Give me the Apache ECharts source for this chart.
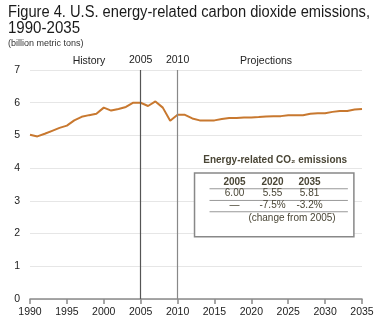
<!DOCTYPE html>
<html><head><meta charset="utf-8">
<script src="https://cdn.jsdelivr.net/npm/echarts@6/dist/echarts.min.js"></script>
<style>html,body{margin:0;padding:0;background:#fff}#c{width:378px;height:329px}</style>
</head><body><div id="c"></div>
<script>
const years = [1990,1991,1992,1993,1994,1995,1996,1997,1998,1999,2000,2001,2002,2003,2004,2005,2006,2007,2008,2009,2010,2011,2012,2013,2014,2015,2016,2017,2018,2019,2020,2021,2022,2023,2024,2025,2026,2027,2028,2029,2030,2031,2032,2033,2034,2035];
const emissions = [5.02,4.97,5.05,5.14,5.23,5.30,5.46,5.57,5.62,5.66,5.85,5.76,5.81,5.87,6.00,6.00,5.90,6.04,5.85,5.45,5.63,5.63,5.52,5.46,5.46,5.46,5.50,5.53,5.53,5.55,5.55,5.56,5.58,5.59,5.59,5.62,5.62,5.62,5.66,5.68,5.68,5.72,5.75,5.75,5.79,5.81];
const xTicks = [1990,1995,2000,2005,2010,2015,2020,2025,2030,2035];
const yTicks = [0,1,2,3,4,5,6,7];
const markerYears = [2005, 2010];
const titleLines = ['Figure 4. U.S. energy-related carbon dioxide emissions,', '1990-2035'];
const subtitle = '(billion metric tons)';
const tableTitle = 'Energy-related CO\u2082 emissions';
const tableHeader = ['2005','2020','2035'];
const tableValues = ['6.00','5.55','5.81'];
const tableChange = ['\u2014','-7.5%','-3.2%'];
const tableNote = '(change from 2005)';

const chart = echarts.init(document.getElementById('c'));
const FONT = 'Liberation Sans, Arial, sans-serif';
const TFONT = '16px "Liberation Sans", Arial';
const ctx = document.createElement('canvas').getContext('2d');
ctx.font = TFONT;
const targetW = [362, 72];
const titleGraphics = titleLines.map((t, i) => {
  const w = ctx.measureText(t).width;
  const s = Math.min(1, targetW[i] / w);
  return {type: 'text', x: 8, y: 5 + i * 16, scaleX: s, style: {text: t, font: TFONT, fill: '#1a1a1a'}};
});
const option = {
  animation: false,
  grid: {left: 30, right: 16, top: 70, bottom: 30},
  xAxis: {
    type: 'value', min: xTicks[0], max: xTicks[xTicks.length-1], interval: 5,
    axisLine: {lineStyle: {color: '#8a8a8a', width: 1.5}},
    axisTick: {show: true, length: 5, lineStyle: {color: '#8a8a8a', width: 1.5}},
    axisLabel: {color: '#222', fontSize: 10.5, fontFamily: FONT, margin: 8, formatter: v => String(v)},
    splitLine: {show: false}
  },
  yAxis: {
    type: 'value', min: yTicks[0], max: yTicks[yTicks.length-1], interval: 1,
    axisLine: {show: false}, axisTick: {show: false},
    axisLabel: {color: '#222', fontSize: 10.5, fontFamily: FONT, margin: 10},
    splitLine: {lineStyle: {color: '#e6e6e6', width: 1}}
  },
  series: [{
    type: 'line',
    data: years.map((y, i) => [y, emissions[i]]),
    symbol: 'none',
    lineStyle: {color: '#c8782f', width: 2},
    z: 3,
    markLine: {
      silent: true, symbol: 'none',
      label: {show: true, position: 'end', color: '#222', fontSize: 10.5, fontFamily: FONT, distance: 4, formatter: p => String(p.value)},
      data: [
        {xAxis: markerYears[0], lineStyle: {color: '#555', width: 1.2, type: 'solid'}},
        {xAxis: markerYears[1], lineStyle: {color: '#888', width: 1.2, type: 'solid'}}
      ]
    }
  }],
  graphic: titleGraphics.concat([
    {type: 'text', left: 8, top: 39, style: {text: subtitle, font: '9px "Liberation Sans", Arial', fill: '#333'}}
  ])
};
chart.setOption(option);

const pHist = chart.convertToPixel({gridIndex: 0}, [1998, 7]);
const pProj = chart.convertToPixel({gridIndex: 0}, [2022, 7]);
const pBoxTL = chart.convertToPixel({gridIndex: 0}, [2012.3, 3.85]);
const pBoxBR = chart.convertToPixel({gridIndex: 0}, [2033.9, 1.9]);
const bx = pBoxTL[0], by = pBoxTL[1], bw = pBoxBR[0] - pBoxTL[0], bh = pBoxBR[1] - pBoxTL[1];
const colX = [bx + 40, bx + 78, bx + 115];
const tcol = '#4a4636';
const g = option.graphic.slice();
g.push({type: 'text', x: pHist[0], y: pHist[1] - 9, style: {text: 'History', font: '10.5px "Liberation Sans", Arial', fill: '#222', align: 'center', verticalAlign: 'middle'}});
g.push({type: 'text', x: pProj[0], y: pProj[1] - 9, style: {text: 'Projections', font: '10.5px "Liberation Sans", Arial', fill: '#222', align: 'center', verticalAlign: 'middle'}});
g.push({type: 'text', x: bx + bw/2 + 1, y: by - 13, z: 10, style: {text: tableTitle, font: 'bold 10px "Liberation Sans", Arial', fill: tcol, align: 'center', verticalAlign: 'middle'}});
g.push({type: 'rect', z: 9, shape: {x: bx, y: by, width: bw, height: bh}, style: {fill: '#fff', stroke: '#888', lineWidth: 1.5}});
[by + 15.7, by + 27.4, by + 38.7].forEach(ly => {
  g.push({type: 'line', z: 10, shape: {x1: bx + 15, y1: ly, x2: bx + bw - 6, y2: ly}, style: {stroke: '#999', lineWidth: 1}});
});
tableHeader.forEach((t, i) => g.push({type: 'text', z: 11, x: colX[i], y: by + 9, style: {text: t, font: 'bold 10px "Liberation Sans", Arial', fill: tcol, align: 'center', verticalAlign: 'middle'}}));
tableValues.forEach((t, i) => g.push({type: 'text', z: 11, x: colX[i], y: by + 20.5, style: {text: t, font: '10px "Liberation Sans", Arial', fill: tcol, align: 'center', verticalAlign: 'middle'}}));
tableChange.forEach((t, i) => g.push({type: 'text', z: 11, x: colX[i], y: by + 32.5, style: {text: t, font: '10px "Liberation Sans", Arial', fill: tcol, align: 'center', verticalAlign: 'middle'}}));
g.push({type: 'text', z: 11, x: (colX[1] + colX[2]) / 2 + 1, y: by + 45.5, style: {text: tableNote, font: '10px "Liberation Sans", Arial', fill: tcol, align: 'center', verticalAlign: 'middle'}});
chart.setOption({graphic: g});
</script>
</body></html>
